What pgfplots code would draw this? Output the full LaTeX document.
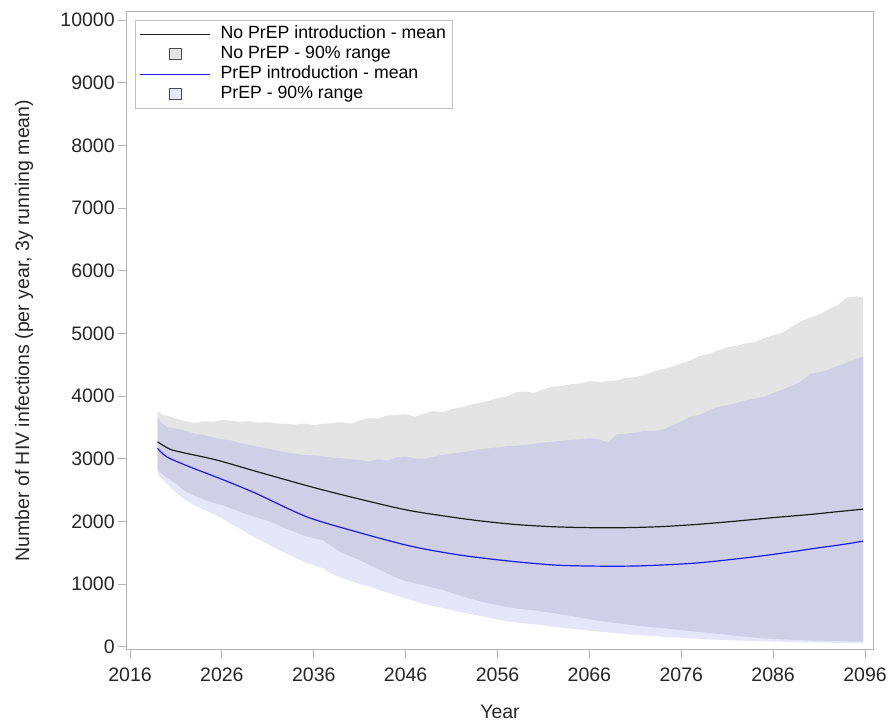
\documentclass[border=0pt]{standalone}
\usepackage{fontspec}
\setmainfont{Liberation Sans}
\usepackage{pgfplots}
\pgfplotsset{compat=1.18}
\usepgfplotslibrary{fillbetween}
\definecolor{cgray}{HTML}{E4E4E4}
\definecolor{clav}{HTML}{E6E6FA}
\definecolor{cover}{HTML}{CFCFE6}
\definecolor{cblack}{HTML}{1E1E1E}
\definecolor{cblue}{HTML}{1A1AFF}
\definecolor{cframe}{HTML}{B4B4B4}
\begin{document}
\begin{tikzpicture}
\begin{axis}[
  scale only axis, width=746.6pt, height=637.3pt,
  xmin=2015.64, xmax=2096.9, ymin=-41, ymax=10128,
  xtick={2016,2026,...,2096}, ytick={0,1000,...,10000},
  scaled y ticks=false, scaled x ticks=false,
  xtick pos=lower, ytick pos=left,
  axis line style={draw=cframe, line width=1pt},
  tick style={draw=cframe, line width=1pt},
  tick align=outside, major tick length=8.5pt,
  /pgf/number format/assume math mode=true,
  /pgf/number format/1000 sep={},
  tick label style={font=\fontsize{19.5}{22}\selectfont, text=black!85},
  xticklabel style={yshift=-6.5pt},
  label style={font=\fontsize{19.5}{22}\selectfont, text=black!85},
  xlabel={Year},
  ylabel={Number of HIV infections (per year, 3y running mean)},
  x label style={at={(axis description cs:0.5,-0.0976)}, anchor=center},
  y label style={at={(axis description cs:-0.1375,0.5)}, anchor=center},
  legend style={at={(0,1)}, xshift=8.3pt, yshift=-7.8pt, anchor=north west,
    draw=black!25, fill=white, line width=0.8pt,
    font=\fontsize{17.7}{20}\selectfont, inner xsep=4pt, inner ysep=4pt,
    row sep=0pt,
    nodes={text height=13pt, text depth=4pt, inner ysep=1.5pt, inner xsep=3pt},
    /tikz/every odd column/.append style={column sep=7pt}},
  legend cell align=left,
]
\addlegendimage{legend image code/.code={\draw[cblack, line width=1.2pt] (0pt,0pt) -- (70pt,0pt);}}
\addlegendentry{No PrEP introduction - mean}
\addlegendimage{legend image code/.code={\path[draw=none, fill=none] (0pt,0pt) -- (70pt,0pt); \filldraw[draw=black!70, fill=cgray, line width=0.8pt] (29pt,-5.5pt) rectangle (41pt,5.5pt);}}
\addlegendentry{No PrEP - 90\% range}
\addlegendimage{legend image code/.code={\draw[cblue, line width=1.2pt] (0pt,0pt) -- (70pt,0pt);}}
\addlegendentry{PrEP introduction - mean}
\addlegendimage{legend image code/.code={\path[draw=none, fill=none] (0pt,0pt) -- (70pt,0pt); \filldraw[draw=black!70, fill=clav, line width=0.8pt] (29pt,-5.5pt) rectangle (41pt,5.5pt);}}
\addlegendentry{PrEP - 90\% range}

% No PrEP 90% range, upper
\addplot[draw=none, name path=GU, forget plot] table {
x y
2019 3760
2019.5 3700
2020 3690
2021 3640
2022 3600
2023 3570
2024 3600
2025 3590
2026 3620
2027 3605
2028 3590
2029 3600
2030 3575
2031 3585
2032 3560
2033 3555
2034 3545
2035 3560
2036 3540
2037 3555
2038 3570
2039 3585
2040 3560
2041 3610
2042 3650
2043 3640
2044 3690
2045 3700
2046 3710
2047 3670
2048 3720
2049 3760
2050 3740
2051 3790
2052 3820
2053 3860
2054 3890
2055 3920
2056 3970
2057 3990
2058 4060
2059 4070
2060 4050
2061 4110
2062 4150
2063 4160
2064 4190
2065 4200
2066 4240
2067 4220
2068 4240
2069 4250
2070 4290
2071 4300
2072 4340
2073 4390
2074 4430
2075 4470
2076 4520
2077 4570
2078 4640
2079 4670
2080 4730
2081 4780
2082 4800
2083 4840
2084 4860
2085 4920
2086 4970
2087 5010
2088 5100
2089 5190
2090 5250
2091 5300
2092 5380
2093 5450
2094 5570
2095 5590
2095.8 5570
};
% No PrEP 90% range, lower
\addplot[draw=none, name path=GL, forget plot] table {
x y
2019 2820
2020 2700
2021 2600
2022 2480
2023 2410
2024 2350
2025 2300
2026 2260
2027 2210
2028 2150
2029 2100
2030 2050
2031 2010
2032 1950
2033 1880
2034 1830
2035 1770
2036 1730
2037 1700
2038 1600
2039 1500
2040 1440
2041 1380
2042 1310
2043 1240
2044 1170
2045 1100
2046 1050
2047 1010
2048 980
2049 945
2050 910
2051 860
2052 810
2053 770
2054 730
2055 695
2056 660
2057 635
2058 610
2059 595
2060 580
2061 560
2062 540
2063 515
2064 490
2065 465
2066 440
2067 415
2068 395
2069 375
2070 355
2071 340
2072 325
2073 310
2074 295
2075 280
2076 265
2077 250
2078 235
2079 220
2080 205
2081 190
2082 175
2083 160
2084 145
2085 135
2086 125
2087 118
2088 112
2089 106
2090 100
2091 97
2092 94
2093 90
2094 87
2095 85
2095.8 84
};
% PrEP 90% range, upper
\addplot[draw=none, name path=BU, forget plot] table {
x y
2019 3660
2019.5 3560
2020 3510
2021 3480
2022 3450
2023 3400
2024 3380
2025 3340
2026 3310
2027 3290
2028 3250
2029 3220
2030 3190
2031 3160
2032 3130
2033 3100
2034 3080
2035 3060
2036 3050
2037 3040
2038 3015
2039 3010
2040 2990
2041 2980
2042 2955
2043 2990
2044 2970
2045 3020
2046 3035
2047 3005
2048 3000
2049 3030
2050 3060
2051 3080
2052 3100
2053 3120
2054 3150
2055 3165
2056 3180
2057 3200
2058 3205
2059 3220
2060 3240
2061 3255
2062 3270
2063 3285
2064 3300
2065 3310
2066 3325
2067 3310
2068 3260
2069 3390
2070 3400
2071 3420
2072 3440
2073 3445
2074 3460
2075 3530
2076 3600
2077 3670
2078 3700
2079 3770
2080 3830
2081 3850
2082 3890
2083 3930
2084 3960
2085 3990
2086 4050
2087 4100
2088 4160
2089 4230
2090 4350
2091 4380
2092 4420
2093 4480
2094 4530
2095 4590
2095.8 4630
};
% PrEP 90% range, lower
\addplot[draw=none, name path=LL, forget plot] table {
x y
2019 2760
2020 2600
2021 2460
2022 2340
2023 2260
2024 2190
2025 2120
2026 2050
2027 1960
2028 1880
2029 1790
2030 1710
2031 1640
2032 1560
2033 1490
2034 1420
2035 1350
2036 1300
2037 1250
2038 1160
2039 1100
2040 1050
2041 1000
2042 960
2043 910
2044 860
2045 815
2046 770
2047 725
2048 680
2049 650
2050 620
2051 585
2052 550
2053 525
2054 495
2055 465
2056 435
2057 405
2058 390
2059 372
2060 360
2061 340
2062 322
2063 305
2064 288
2065 272
2066 257
2067 242
2068 228
2069 214
2070 202
2071 190
2072 180
2073 170
2074 160
2075 150
2076 142
2077 134
2078 126
2079 119
2080 112
2081 106
2082 100
2083 95
2084 90
2085 86
2086 82
2087 78
2088 75
2089 72
2090 70
2091 67
2092 65
2093 62
2094 60
2095 59
2095.8 58
};
\addplot[fill=cgray, draw=none, forget plot] fill between[of=GU and GL];
\addplot[fill=clav, draw=none, forget plot] fill between[of=BU and LL];
\addplot[fill=cover, draw=none, forget plot] fill between[of=BU and GL];

% No PrEP mean
\addplot[cblack, line width=1.2pt, smooth, forget plot] table {
x y
2019 3270
2020.3 3155
2021.8 3096
2025.4 2980
2029.8 2795
2036 2540
2041 2355
2046 2185
2050 2090
2054 2010
2058 1950
2062 1915
2066 1900
2070 1900
2074 1918
2078 1955
2082 2005
2086 2060
2090 2110
2093 2155
2095.8 2195
};
% PrEP mean
\addplot[cblue, line width=1.2pt, smooth, forget plot] table {
x y
2019 3165
2020 3030
2022.5 2870
2026.2 2660
2029.8 2440
2035.2 2075
2040.6 1835
2046.1 1620
2049.7 1515
2053 1440
2057.7 1360
2062 1305
2065 1290
2068 1285
2071 1288
2074 1305
2077.6 1335
2081 1385
2084.8 1450
2088 1515
2091 1580
2093.5 1630
2095.8 1685
};
\end{axis}
\path (current axis.south west) ++(-126.7pt,-72.7pt) coordinate (bl);
\path (current axis.north east) ++(15.7pt,12pt) coordinate (tr);
\pgfresetboundingbox
\path[use as bounding box] (bl) rectangle (tr);
\end{tikzpicture}
\end{document}
